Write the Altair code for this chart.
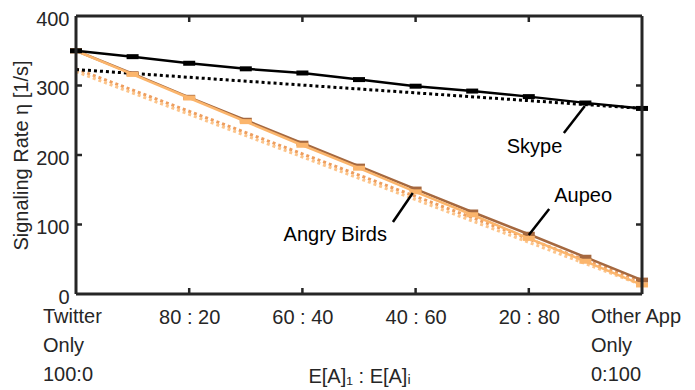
import altair as alt
import pandas as pd

# ---- data ----
x_pct = [0, 10, 20, 30, 40, 50, 60, 70, 80, 90, 100]
skype = [350, 341.5, 332, 324, 318, 308.5, 299, 292, 284, 275, 267]
aupeo = [350, 317, 283, 250, 217, 184, 151, 118, 86, 53, 20]
angry = [350, 316, 282, 248, 214, 181, 147, 114, 80, 47, 13]

fit_x = [0, 100]
skype_fit = [323, 267]
aupeo_fit = [324, 18]
angry_fit = [320, 13]

x_ticks = [0, 20, 40, 60, 80, 100]
x_tick_labels = ["Twitter\nOnly\n100:0", "80 : 20", "60 : 40", "40 : 60", "20 : 80", "Other App\nOnly\n0:100"]
y_ticks = [0, 100, 200, 300, 400]

ann_text = ["Skype", "Aupeo", "Angry Birds"]
ann_tx = [81.0, 89.6, 45.8]
ann_ty = [211, 141, 85]
ann_x1 = [86.2, 83.6, 56.0]
ann_y1 = [231.7, 122.3, 103.6]
ann_x2 = [89.9, 80.0, 59.5]
ann_y2 = [270.5, 84.9, 145.3]

W, H = 566, 278
FONT = "Liberation Sans"
AXC = "#262626"

series = [("Aupeo", aupeo, "#A5683F"), ("Angry Birds", angry, "#FBB56C"), ("Skype", skype, "#000000")]
fits = [("Aupeo", aupeo_fit, "#EE9E5E"), ("Angry Birds", angry_fit, "#FCC48A"), ("Skype", skype_fit, "#000000")]

xs = alt.Scale(domain=[0, 100], nice=False, zero=False)
ys = alt.Scale(domain=[0, 400], nice=False)

layers = []
for name, vals, col in fits:
    df = pd.DataFrame({"x": fit_x, "y": vals})
    layers.append(alt.Chart(df).mark_line(color=col, strokeWidth=3, strokeDash=[3, 3]).encode(
        x=alt.X("x:Q", scale=xs), y=alt.Y("y:Q", scale=ys)))
for name, vals, col in series:
    df = pd.DataFrame({"x": x_pct, "y": vals})
    layers.append(alt.Chart(df).mark_line(color=col, strokeWidth=2.5).encode(
        x=alt.X("x:Q", scale=xs), y=alt.Y("y:Q", scale=ys)))
    layers.append(alt.Chart(df).mark_tick(color=col, orient="horizontal", thickness=5, size=12, opacity=1).encode(
        x=alt.X("x:Q", scale=xs), y=alt.Y("y:Q", scale=ys)))

# axes (labels only) drawn on an invisible layer
label_map = "{" + ",".join(f"'{v}':'{l}'" for v, l in zip(x_ticks, x_tick_labels) if "\n" not in l) + "}"
axis_df = pd.DataFrame({"x": [0, 100], "y": [0, 400]})
axes = alt.Chart(axis_df).mark_point(opacity=0).encode(
    x=alt.X("x:Q", scale=xs, axis=alt.Axis(
        values=x_ticks, domain=False, ticks=False, grid=False,
        labelExpr=f"{label_map}[''+datum.value] || ''",
        labelFont=FONT, labelFontSize=20, labelColor=AXC, labelPadding=13, labelFlush=False,
        title="E[A]₁ : E[A]ᵢ", titleFont=FONT, titleFontSize=20, titleFontWeight="normal",
        titleColor=AXC, titleX=283, titleY=72)),
    y=alt.Y("y:Q", scale=ys, axis=alt.Axis(
        values=y_ticks, domain=False, ticks=False, grid=False,
        labelFont=FONT, labelFontSize=20, labelColor=AXC, labelPadding=7, labelOffset=3,
        title="Signaling Rate η [1/s]", titleFont=FONT, titleFontSize=20, titleFontWeight="normal",
        titleColor=AXC, titlePadding=4)),
)

# end-point multi-line labels
end_df = pd.DataFrame({"x": [x_ticks[0], x_ticks[-1]],
                       "t": [x_tick_labels[0].split("\n"), x_tick_labels[-1].split("\n")],
                       "dx": [-33, -51]})
end_lbls = []
for i in range(2):
    end_lbls.append(alt.Chart(end_df.iloc[[i]]).mark_text(
        align="left", baseline="top", font=FONT, fontSize=20, color=AXC, lineHeight=29,
        dx=int(end_df.dx.iloc[i])).encode(
        x=alt.X("x:Q", scale=xs), y=alt.value(H + 13), text="t"))

# inward ticks
xt_df = pd.DataFrame({"x": x_ticks[1:-1]})
yt_df = pd.DataFrame({"y": y_ticks[1:-1]})
tick_layers = [
    alt.Chart(xt_df).mark_rule(color=AXC, strokeWidth=2.5).encode(x=alt.X("x:Q", scale=xs), y=alt.value(H), y2=alt.value(H - 6)),
    alt.Chart(xt_df).mark_rule(color=AXC, strokeWidth=2.5).encode(x=alt.X("x:Q", scale=xs), y=alt.value(0), y2=alt.value(6)),
    alt.Chart(yt_df).mark_rule(color=AXC, strokeWidth=2.5).encode(y=alt.Y("y:Q", scale=ys), x=alt.value(0), x2=alt.value(6)),
    alt.Chart(yt_df).mark_rule(color=AXC, strokeWidth=2.5).encode(y=alt.Y("y:Q", scale=ys), x=alt.value(W), x2=alt.value(W - 6)),
]

# frame box
box_df = pd.DataFrame({"k": [0]})
frame = [
    alt.Chart(box_df).mark_rule(color=AXC, strokeWidth=3).encode(x=alt.value(0), x2=alt.value(W), y=alt.value(0)),
    alt.Chart(box_df).mark_rule(color=AXC, strokeWidth=3).encode(x=alt.value(0), x2=alt.value(W), y=alt.value(H)),
    alt.Chart(box_df).mark_rule(color=AXC, strokeWidth=3).encode(y=alt.value(0), y2=alt.value(H), x=alt.value(0)),
    alt.Chart(box_df).mark_rule(color=AXC, strokeWidth=3).encode(y=alt.value(0), y2=alt.value(H), x=alt.value(W)),
]

ann_df = pd.DataFrame({"t": ann_text, "tx": ann_tx, "ty": ann_ty,
                       "x1": ann_x1, "y1": ann_y1, "x2": ann_x2, "y2": ann_y2})
ann_lines = alt.Chart(ann_df).mark_rule(color="#000000", strokeWidth=2.5).encode(
    x=alt.X("x1:Q", scale=xs), y=alt.Y("y1:Q", scale=ys), x2="x2:Q", y2="y2:Q")
ann_txt = alt.Chart(ann_df).mark_text(font=FONT, fontSize=20, color="#000000", align="center", baseline="middle").encode(
    x=alt.X("tx:Q", scale=xs), y=alt.Y("ty:Q", scale=ys), text="t")

chart = alt.layer(axes, *tick_layers, *layers, *frame, ann_lines, ann_txt, *end_lbls).properties(
    width=W, height=H,
    autosize=alt.AutoSizeParams(type="none"),
    padding={"left": 68, "top": 8, "right": 45, "bottom": 94},
).configure_view(stroke=None).configure(background="white")

chart.save("out.html", embed_options={"renderer": "svg", "actions": False})
